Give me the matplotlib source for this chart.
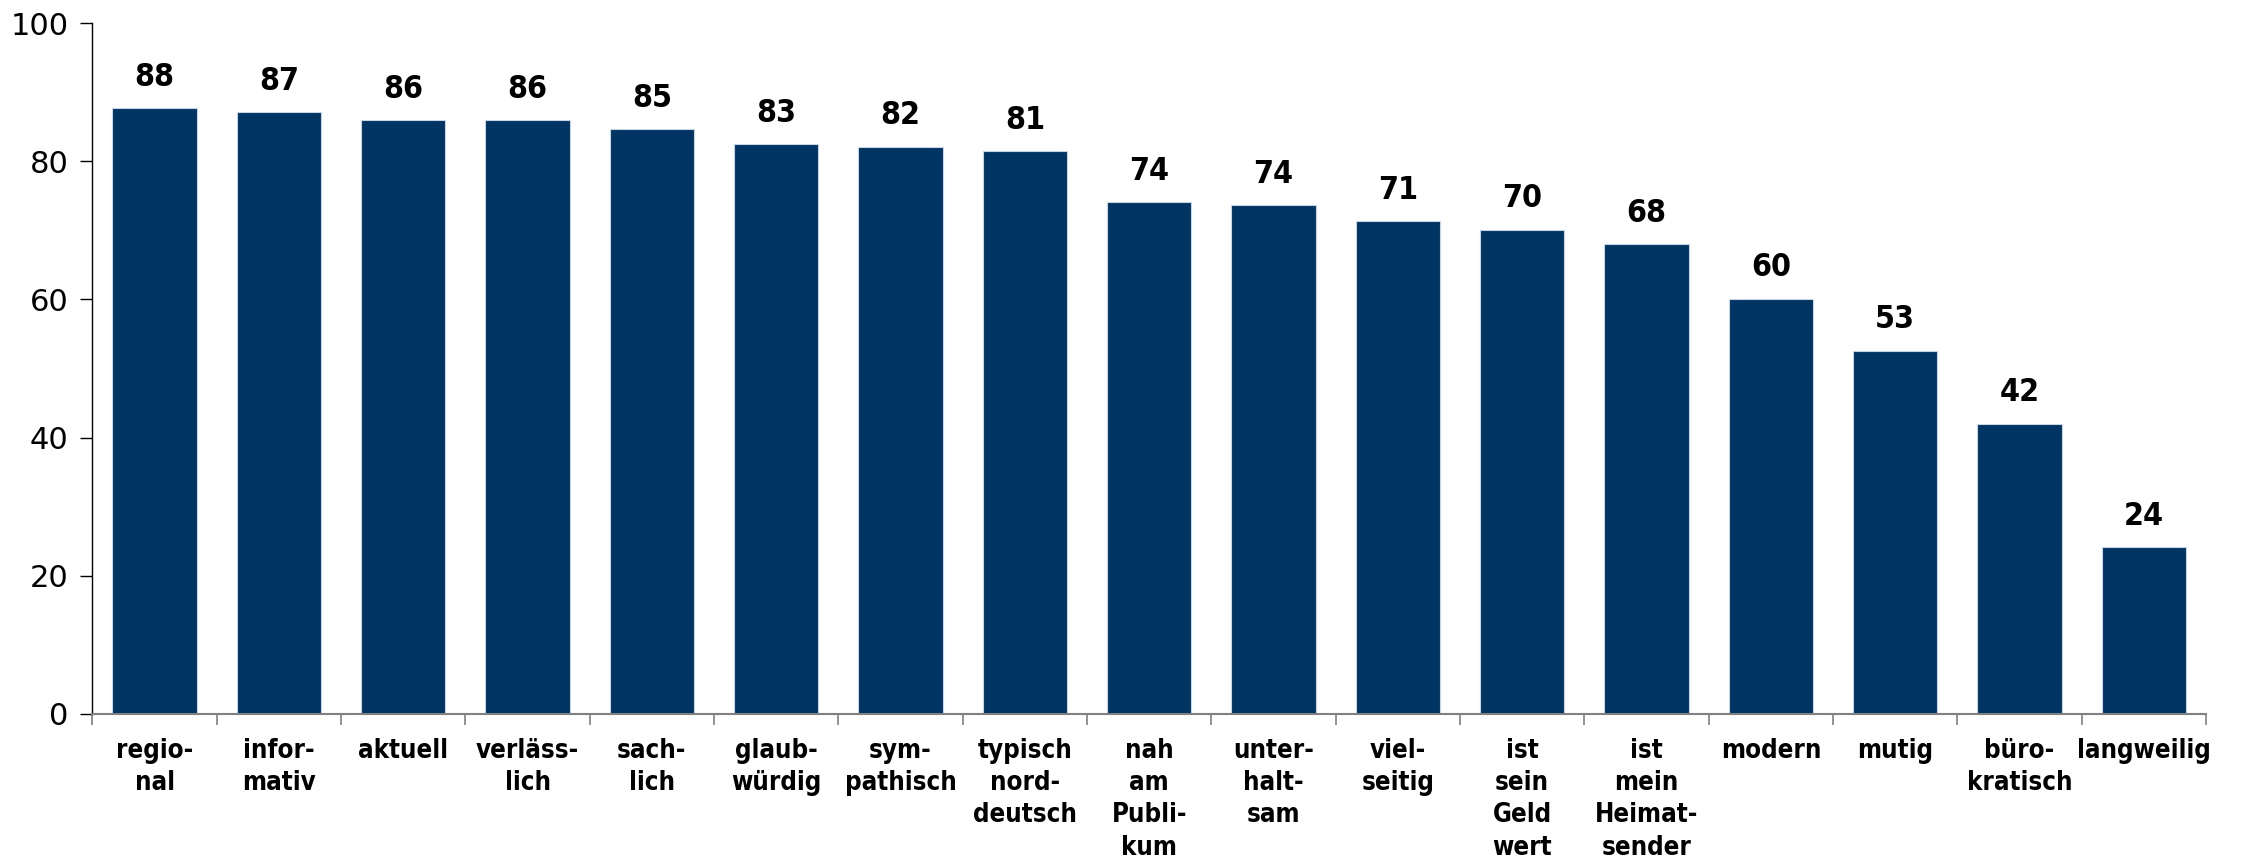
import numpy as np
import matplotlib.pyplot as plt

# Werte aus der Grafik (Balkenhöhen geschätzt, Beschriftung gerundet)
categories = ['regio-\nnal', 'infor-\nmativ', 'aktuell', 'verläss-\nlich', 'sach-\nlich',
              'glaub-\nwürdig', 'sym-\npathisch', 'typisch\nnord-\ndeutsch', 'nah\nam\nPubli-\nkum',
              'unter-\nhalt-\nsam', 'viel-\nseitig', 'ist\nsein\nGeld\nwert', 'ist\nmein\nHeimat-\nsender',
              'modern', 'mutig', 'büro-\nkratisch', 'langweilig']
values = [87.7, 87.1, 85.9, 85.9, 84.6, 82.5, 82.1, 81.5, 74.1, 73.6, 71.3, 70.1, 68.0, 60.1, 52.6, 42.0, 24.1]
value_labels = ['88', '87', '86', '86', '85', '83', '82', '81', '74', '74', '71', '70', '68', '60', '53', '42', '24']
y_ticks = [0, 20, 40, 60, 80, 100]

bar_color = '#003462'
label_font = 'DejaVu Sans'

fig = plt.figure(figsize=(22.52, 8.65), dpi=100)
ax = fig.add_axes([0.041, 0.1746, 0.9386, 0.7988])

x = np.arange(len(categories))
ax.bar(x, values, width=0.68, color=bar_color, edgecolor='#c6d4e4', linewidth=0.8)

for xi, v, lab in zip(x, values, value_labels):
    ax.annotate(lab, (xi, v), xytext=(0, 11), textcoords='offset points',
                ha='center', va='bottom', fontsize=23, fontweight='bold',
                family=label_font, fontstretch='condensed')

ax.set_xlim(-0.5, len(categories) - 0.5)
ax.set_ylim(0, 100)
ax.set_yticks(y_ticks)
ax.set_yticklabels([str(t) for t in y_ticks], fontsize=22, family=label_font)

# Beschriftung in der Mitte, Striche an den Grenzen
ax.set_xticks(x)
ax.set_xticklabels(categories, fontsize=18.5, fontweight='bold', family=label_font,
                   fontstretch='condensed', linespacing=1.32, va='top')
ax.tick_params(axis='x', which='major', length=0, pad=17)
ax.set_xticks(np.arange(len(categories) + 1) - 0.5, minor=True)
ax.tick_params(axis='x', which='minor', length=8, color='#808080', width=1.2)
ax.tick_params(axis='y', length=9, width=1, direction='out', pad=8)

ax.spines['top'].set_visible(False)
ax.spines['right'].set_visible(False)
ax.spines['bottom'].set_color('#808080')
ax.spines['bottom'].set_linewidth(1.5)
ax.spines['left'].set_linewidth(1)

fig.savefig('out.png', dpi=100)
